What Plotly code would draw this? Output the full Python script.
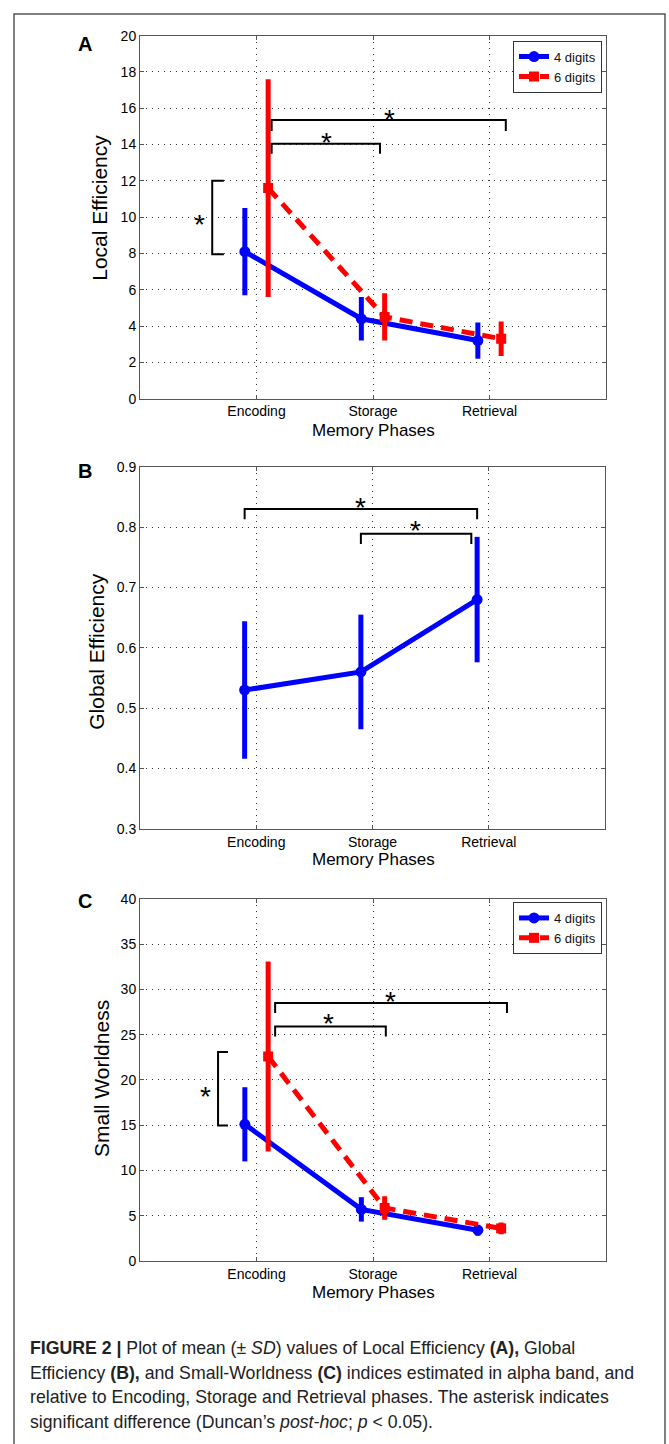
import numpy as np
import plotly.graph_objects as go

W, H = 669, 1444

# ---------------- data ----------------
phases = ["Encoding", "Storage", "Retrieval"]
series_names = ["4 digits", "6 digits"]

# Panel A: Local Efficiency (mean, SD)
le_4_mean = [8.1, 4.4, 3.2]
le_4_sd = [2.4, 1.2, 1.0]
le_6_mean = [11.6, 4.5, 3.3]
le_6_sd = [6.0, 1.3, 0.95]

# Panel B: Global Efficiency
ge_mean = [0.53, 0.56, 0.68]
ge_sd = [0.114, 0.095, 0.104]

# Panel C: Small Worldness
sw_4_mean = [15.1, 5.7, 3.4]
sw_4_sd = [4.1, 1.35, 0.6]
sw_6_mean = [22.6, 5.85, 3.6]
sw_6_sd = [10.5, 1.3, 0.65]

# significance brackets: (x_start, x_end, y_level, tip_drop)
sig_A = [(1.13, 2.06, 14.05, 0.55), (1.13, 3.14, 15.35, 0.6)]
sig_A_left = (0.62, 0.72, 7.95, 12.0)
stars_A = [(1.60, 14.5), (2.14, 15.75), (0.51, 10.0)]

sig_B = [(0.90, 2.90, 0.830, 0.017), (1.90, 2.85, 0.789, 0.017)]
stars_B = [(1.90, 0.845), (2.37, 0.806)]

sig_C = [(1.16, 2.11, 25.9, 1.1), (1.16, 3.15, 28.5, 1.1)]
sig_C_left = (0.67, 0.755, 14.96, 23.1)
stars_C = [(1.62, 27.0), (2.15, 29.5), (0.56, 19.0)]

yticks_A = list(range(0, 21, 2))
yticks_B = [0.3, 0.4, 0.5, 0.6, 0.7, 0.8, 0.9]
yticks_C = list(range(0, 41, 5))

caption_lines = [
    "<b>FIGURE 2 |</b> Plot of mean (± <i>SD</i>) values of Local Efficiency <b>(A),</b> Global",
    "Efficiency <b>(B),</b> and Small-Worldness <b>(C)</b> indices estimated in alpha band, and",
    "relative to Encoding, Storage and Retrieval phases. The asterisk indicates",
    "significant difference (Duncan’s <i>post-hoc</i>; <i>p</i> &lt; 0.05).",
]

# ---------------- style ----------------
BLUE = "#0000ff"
RED = "#ff0000"
FONT = "Liberation Sans, Arial, sans-serif"
off = 0.1
pos = np.arange(1, len(phases) + 1)


def px_x(p):
    return p / W


def px_y(p):
    return 1 - p / H


panels = {
    "A": dict(top=28, bottom=395, left=140, right=606),
    "B": dict(top=464, bottom=830, left=140, right=605),
    "C": dict(top=901, bottom=1267, left=140, right=606),
}

fig = go.Figure()


def add_series(mean, sd, color, symbol, xs, name, axis_idx, legend, showlegend, dash=None, msize=11):
    xa = "x" if axis_idx == 1 else f"x{axis_idx}"
    ya = "y" if axis_idx == 1 else f"y{axis_idx}"
    fig.add_trace(go.Scatter(
        x=xs, y=mean, mode="lines+markers", name=name,
        line=dict(color=color, width=5, dash=dash),
        marker=dict(color=color, symbol=symbol, size=msize),
        error_y=dict(type="data", array=sd, color=color, thickness=5, width=0),
        xaxis=xa, yaxis=ya, legend=legend, showlegend=showlegend,
    ))


add_series(le_4_mean, le_4_sd, BLUE, "circle", pos - off, series_names[0], 1, "legend", True)
add_series(le_6_mean, le_6_sd, RED, "square", pos + off, series_names[1], 1, "legend", True, dash="13px,8px", msize=10)
add_series(ge_mean, ge_sd, BLUE, "circle", pos - off, series_names[0], 2, "legend", False)
add_series(sw_4_mean, sw_4_sd, BLUE, "circle", pos - off, series_names[0], 3, "legend2", True)
add_series(sw_6_mean, sw_6_sd, RED, "square", pos + off, series_names[1], 3, "legend2", True, dash="13px,8px", msize=10)

axis_common = dict(
    showline=True, linecolor="#555", linewidth=1, mirror="ticks",
    ticks="inside", ticklen=4, tickcolor="#555",
    showgrid=True, gridcolor="#333", gridwidth=1, griddash="1px,5px",
    zeroline=False, tickfont=dict(family=FONT, size=14, color="#000"),
)

layout_axes = {}
for i, (key, yt) in enumerate(zip(["A", "B", "C"], [yticks_A, yticks_B, yticks_C]), start=1):
    p = panels[key]
    xname = "xaxis" if i == 1 else f"xaxis{i}"
    yname = "yaxis" if i == 1 else f"yaxis{i}"
    layout_axes[xname] = dict(
        axis_common, domain=[px_x(p["left"]), px_x(p["right"])],
        range=[0, 4], tickvals=list(pos), ticktext=phases,
        anchor="y" if i == 1 else f"y{i}",
    )
    layout_axes[yname] = dict(
        axis_common, domain=[px_y(p["bottom"]), px_y(p["top"])],
        range=[yt[0], yt[-1]], tickvals=yt,
        ticktext=[(f"{v:g}" if key != "B" else f"{v:.1f}") for v in yt],
        anchor="x" if i == 1 else f"x{i}",
    )

fig.update_layout(**layout_axes)

shapes = []


def bracket_h(x0, x1, y, d, i):
    xr = "x" if i == 1 else f"x{i}"
    yr = "y" if i == 1 else f"y{i}"
    shapes.append(dict(type="path", xref=xr, yref=yr,
                       path=f"M {x0},{y - d} L {x0},{y} L {x1},{y} L {x1},{y - d}",
                       line=dict(color="black", width=2)))


def bracket_v(xl, xr_, y0, y1, i):
    xr = "x" if i == 1 else f"x{i}"
    yr = "y" if i == 1 else f"y{i}"
    shapes.append(dict(type="path", xref=xr, yref=yr,
                       path=f"M {xr_},{y1} L {xl},{y1} L {xl},{y0} L {xr_},{y0}",
                       line=dict(color="black", width=2)))


for b in sig_A:
    bracket_h(*b, 1)
bracket_v(*sig_A_left, 1)
for b in sig_B:
    bracket_h(*b, 2)
for b in sig_C:
    bracket_h(*b, 3)
bracket_v(*sig_C_left, 3)

# outer figure frame
shapes.append(dict(type="rect", xref="paper", yref="paper",
                   x0=px_x(14), x1=px_x(665), y0=-0.01, y1=px_y(6),
                   line=dict(color="#555", width=1.5)))

annotations = []


def star(x, y, i):
    xr = "x" if i == 1 else f"x{i}"
    yr = "y" if i == 1 else f"y{i}"
    annotations.append(dict(x=x, y=y, xref=xr, yref=yr, text="*", showarrow=False,
                            xanchor="center", yanchor="middle",
                            font=dict(family=FONT, size=28, color="black"), yshift=-7))


for s in stars_A:
    star(*s, 1)
for s in stars_B:
    star(*s, 2)
for s in stars_C:
    star(*s, 3)


def paper_text(text, x, y, size, angle=0, color="black", xanchor="center"):
    annotations.append(dict(x=px_x(x), y=px_y(y), xref="paper", yref="paper", text=text,
                            textangle=angle, showarrow=False, xanchor=xanchor, yanchor="middle",
                            font=dict(family=FONT, size=size, color=color)))


# panel letters
for letter, (lx, ly) in zip(["A", "B", "C"], [(85, 36), (85, 468), (85, 903)]):
    paper_text(f"<b>{letter}</b>", lx, ly, 20)

# y-axis titles
for title, (tx, ty) in zip(["Local Efficiency", "Global Efficiency", "Small Worldness"],
                           [(100, 202), (97, 651), (101, 1083)]):
    paper_text(title, tx, ty, 21, angle=-90)

# x-axis titles
for ty in [427, 861, 1299]:
    paper_text("Memory Phases", 373, ty, 17)

# caption
for k, line in enumerate(caption_lines):
    paper_text(line, 28, 1355 + 25 * k, 17.7, color="#222", xanchor="left")

legend_common = dict(
    xanchor="right", yanchor="top", bgcolor="white", bordercolor="#333", borderwidth=1,
    font=dict(family=FONT, size=13, color="#111"), tracegroupgap=0, itemwidth=30,
)

fig.update_layout(
    width=W, height=H, margin=dict(l=0, r=0, t=0, b=0),
    paper_bgcolor="white", plot_bgcolor="white",
    shapes=shapes, annotations=annotations,
    legend=dict(legend_common, x=px_x(602), y=px_y(33)),
    legend2=dict(legend_common, x=px_x(602), y=px_y(904)),
    showlegend=True,
)

fig.write_html("out.html", config={"displayModeBar": False},
               post_script="document.body.style.margin='0';document.body.style.overflow='hidden';")
